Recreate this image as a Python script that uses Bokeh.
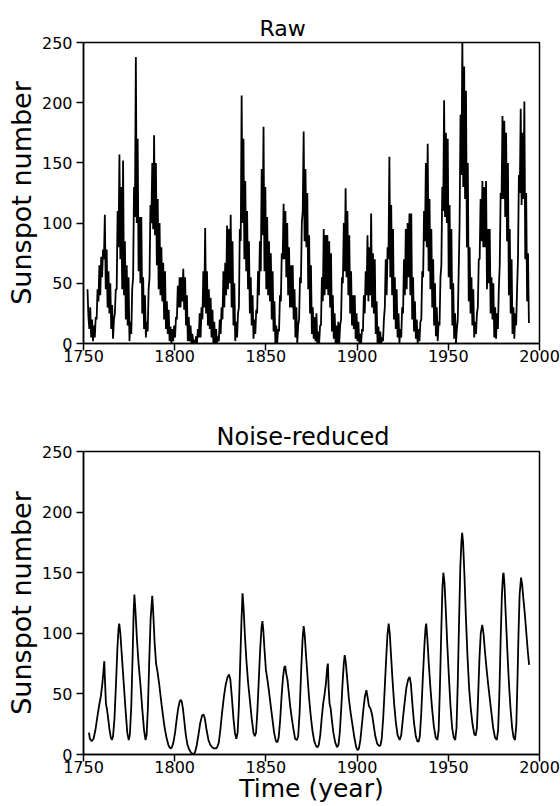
from bokeh.plotting import figure
from bokeh.layouts import column
from bokeh.models import FixedTicker, Range1d
from bokeh.embed import file_html
from bokeh.resources import INLINE

# ---------------- data ----------------
x_ticks = [1750, 1800, 1850, 1900, 1950, 2000]
y_ticks = [0, 50, 100, 150, 200, 250]

raw_start_year = 1752.2
raw_step = 0.5
# raw monthly sunspot numbers, read as two values (low, high) per year, 1752..1993
raw_pairs = [
    (45, 22), (12, 30), (5, 20), (2, 15), (5, 22), (20, 45), (35, 65), (40, 72),
    (55, 78), (70, 107), (45, 78), (30, 60), (25, 50), (12, 32), (4, 20), (25, 45),
    (45, 110), (80, 157), (70, 130), (45, 152), (40, 85), (20, 65), (15, 55), (2, 18),
    (8, 45), (55, 130), (105, 238), (100, 170), (60, 105), (50, 105), (25, 55), (12, 40),
    (5, 18), (10, 45), (55, 115), (100, 150), (95, 173), (90, 150), (65, 120), (45, 100),
    (40, 80), (35, 67), (20, 60), (12, 35), (8, 28), (2, 14), (0, 12), (2, 15),
    (5, 22), (20, 48), (30, 55), (30, 55), (35, 62), (28, 55), (15, 40), (2, 22),
    (2, 15), (0, 8), (0, 3), (0, 6), (0, 12), (5, 25), (5, 30), (20, 60),
    (30, 96), (25, 60), (15, 45), (12, 38), (5, 28), (0, 18), (0, 12), (0, 6),
    (2, 20), (8, 30), (20, 60), (30, 67), (40, 98), (45, 95), (50, 107), (30, 85),
    (15, 50), (2, 18), (5, 25), (30, 95), (85, 206), (100, 170), (70, 135), (60, 110),
    (45, 85), (25, 55), (15, 40), (4, 20), (8, 28), (25, 60), (40, 85), (60, 145),
    (90, 180), (60, 130), (45, 105), (40, 85), (35, 75), (20, 60), (10, 35), (0, 15),
    (0, 12), (10, 40), (35, 75), (70, 116), (70, 110), (55, 100), (40, 80), (30, 65),
    (30, 65), (20, 45), (5, 30), (0, 15), (20, 55), (50, 100), (110, 176), (85, 145),
    (80, 125), (45, 90), (25, 65), (8, 30), (4, 22), (2, 25), (0, 10), (0, 15),
    (15, 55), (35, 95), (40, 90), (45, 90), (40, 85), (30, 75), (10, 40), (4, 25),
    (0, 15), (0, 18), (0, 15), (20, 55), (50, 100), (60, 129), (55, 110), (40, 90),
    (25, 60), (15, 40), (12, 40), (4, 25), (2, 18), (0, 8), (0, 12), (10, 40),
    (25, 60), (40, 90), (35, 80), (40, 108), (30, 75), (25, 70), (8, 35), (0, 14),
    (0, 10), (0, 5), (2, 20), (30, 70), (40, 80), (70, 155), (55, 115), (40, 95),
    (20, 55), (12, 45), (5, 25), (0, 12), (5, 30), (25, 70), (40, 95), (45, 100),
    (55, 108), (40, 108), (20, 55), (10, 35), (4, 20), (0, 12), (2, 18), (20, 60),
    (55, 110), (85, 150), (80, 166), (60, 120), (45, 95), (30, 70), (15, 50), (6, 30),
    (2, 18), (15, 55), (65, 130), (110, 202), (105, 175), (100, 170), (55, 115), (45, 95),
    (15, 50), (4, 25), (0, 12), (20, 60), (100, 190), (140, 254), (130, 230), (120, 210),
    (80, 150), (35, 80), (25, 55), (15, 45), (5, 18), (8, 25), (30, 70), (70, 120),
    (85, 135), (80, 130), (80, 135), (45, 95), (50, 95), (25, 55), (20, 50), (5, 30),
    (4, 25), (12, 45), (65, 125), (120, 189), (120, 185), (105, 175), (85, 150), (40, 95),
    (25, 70), (8, 30), (4, 25), (15, 45), (70, 140), (125, 195), (115, 175), (120, 201),
    (70, 125), (35, 75),
]
raw_last = [17]

smooth_years = [
    1753.0, 1753.5, 1754.5, 1755.5, 1756.5, 1757.5, 1758.5, 1759.5, 1760.3, 1760.9,
    1761.4, 1761.8, 1762.3, 1762.9, 1763.5, 1764.3, 1765.0, 1765.6, 1766.2, 1767.0,
    1767.8, 1768.6, 1769.2, 1769.6, 1770.2, 1771.0, 1772.0, 1773.0, 1774.0, 1774.8,
    1775.4, 1776.2, 1776.9, 1777.5, 1777.9, 1778.5, 1779.3, 1780.2, 1781.2, 1782.2,
    1783.2, 1784.0, 1784.6, 1785.3, 1786.0, 1786.8, 1787.7, 1788.3, 1789.0, 1789.8,
    1790.6, 1791.5, 1792.5, 1793.5, 1794.5, 1795.5, 1796.5, 1797.3, 1797.8, 1798.5,
    1799.3, 1800.2, 1801.0, 1801.8, 1802.6, 1803.2, 1803.8, 1804.5, 1805.3, 1806.1,
    1807.0, 1808.0, 1809.0, 1810.3, 1811.2, 1812.0, 1813.0, 1814.0, 1815.0, 1815.8,
    1816.5, 1817.5, 1818.5, 1819.5, 1820.5, 1821.5, 1822.5, 1823.3, 1824.2, 1825.0,
    1826.0, 1827.0, 1828.0, 1829.0, 1829.8, 1830.5, 1831.3, 1832.2, 1833.0, 1833.8,
    1834.5, 1835.2, 1835.9, 1836.6, 1837.2, 1837.8, 1838.5, 1839.3, 1840.2, 1841.2,
    1842.2, 1843.2, 1843.9, 1844.6, 1845.3, 1846.0, 1846.8, 1847.6, 1848.1, 1848.6,
    1849.3, 1850.0, 1850.8, 1851.7, 1852.5, 1853.5, 1854.5, 1855.5, 1856.3, 1857.0,
    1857.8, 1858.6, 1859.4, 1860.1, 1860.6, 1861.2, 1861.8, 1862.5, 1863.3, 1864.2,
    1865.0, 1866.0, 1867.0, 1867.7, 1868.5, 1869.3, 1870.1, 1870.7, 1871.3, 1872.0,
    1872.8, 1873.6, 1874.5, 1875.5, 1876.5, 1877.5, 1878.3, 1879.0, 1879.8, 1880.6,
    1881.4, 1882.2, 1883.0, 1883.6, 1884.0, 1884.4, 1884.9, 1885.5, 1886.2, 1887.0,
    1888.0, 1889.0, 1889.8, 1890.5, 1891.3, 1892.0, 1892.7, 1893.2, 1893.8, 1894.6,
    1895.5, 1896.5, 1897.5, 1898.5, 1899.5, 1900.3, 1901.0, 1901.8, 1902.6, 1903.5,
    1904.3, 1905.1, 1905.8, 1906.5, 1907.3, 1908.2, 1909.0, 1910.0, 1911.0, 1912.0,
    1912.8, 1913.5, 1914.3, 1915.0, 1915.8, 1916.6, 1917.3, 1917.9, 1918.6, 1919.4,
    1920.3, 1921.2, 1922.2, 1923.3, 1924.2, 1925.0, 1926.0, 1927.0, 1928.0, 1928.8,
    1929.5, 1930.3, 1931.2, 1932.2, 1933.0, 1933.7, 1934.4, 1935.2, 1936.0, 1936.9,
    1937.5, 1937.9, 1938.5, 1939.3, 1940.2, 1941.1, 1942.1, 1943.1, 1944.0, 1944.7,
    1945.4, 1946.2, 1946.8, 1947.3, 1947.9, 1948.6, 1949.4, 1950.3, 1951.2, 1952.1,
    1953.0, 1953.8, 1954.5, 1955.2, 1955.9, 1956.6, 1957.2, 1957.6, 1958.1, 1958.8,
    1959.6, 1960.5, 1961.4, 1962.3, 1963.2, 1964.2, 1965.0, 1965.7, 1966.4, 1967.1,
    1967.8, 1968.6, 1969.3, 1970.1, 1970.9, 1971.7, 1972.6, 1973.6, 1974.6, 1975.6,
    1976.6, 1977.3, 1978.0, 1978.7, 1979.4, 1980.0, 1980.3, 1980.8, 1981.5, 1982.3,
    1983.2, 1984.1, 1985.0, 1985.8, 1986.6, 1987.3, 1987.9, 1988.5, 1989.1, 1989.9,
    1990.5, 1991.2, 1992.0, 1992.8, 1993.6, 1994.3,
]
smooth_values = [
    18, 13, 11, 13, 20, 30, 40, 48, 58, 68,
    77, 60, 42, 37, 30, 20, 14, 12, 15, 30,
    58, 88, 104, 108, 100, 82, 60, 38, 18, 12,
    16, 40, 80, 118, 132, 118, 95, 75, 58, 38,
    20, 12, 16, 38, 75, 112, 131, 115, 92, 75,
    68, 58, 45, 33, 22, 14, 8, 5.5, 5, 6,
    10, 18, 28, 37, 43, 45, 44, 38, 27, 16,
    8, 4, 1.5, 0, 2, 7, 16, 26, 32, 33,
    30, 20, 12, 8, 6, 5, 5, 6, 10, 20,
    35, 48, 58, 64, 66, 62, 48, 30, 18, 13,
    18, 40, 75, 110, 133, 120, 98, 78, 60, 45,
    30, 18, 15, 18, 35, 58, 85, 105, 110, 102,
    85, 70, 62, 52, 42, 30, 18, 11, 10, 14,
    28, 48, 64, 72, 73, 66, 62, 52, 40, 30,
    22, 13, 12, 15, 35, 68, 95, 106, 98, 82,
    65, 48, 33, 20, 11, 7, 6, 8, 16, 30,
    42, 50, 60, 72, 75, 55, 42, 38, 28, 18,
    10, 6, 8, 18, 38, 58, 75, 82, 76, 62,
    46, 34, 24, 14, 6, 3.5, 5, 12, 24, 38,
    48, 53, 47, 40, 38, 33, 25, 15, 9, 7,
    7.5, 13, 30, 50, 75, 98, 108, 100, 82, 62,
    42, 27, 16, 12, 16, 28, 42, 55, 62, 64,
    58, 42, 26, 15, 11, 10.5, 15, 35, 62, 90,
    104, 108, 96, 75, 55, 38, 23, 14, 12, 20,
    55, 105, 138, 150, 142, 120, 92, 65, 40, 22,
    14, 12, 22, 60, 110, 155, 176, 183, 175, 150,
    115, 82, 55, 38, 26, 17, 15.5, 22, 50, 80,
    100, 107, 100, 85, 72, 60, 48, 35, 22, 14,
    12, 20, 50, 95, 132, 148, 150, 140, 115, 88,
    60, 38, 22, 14, 12, 25, 60, 100, 132, 146,
    140, 128, 115, 100, 85, 74,
]

raw_values = [v for pair in raw_pairs for v in pair] + raw_last
raw_years = [raw_start_year + raw_step * i for i in range(len(raw_values))]

FONT = "DejaVu Sans"


def make_fig(height, top, bottom, title_text, title_offset, title_size, title_standoff, xlabel):
    p = figure(width=560, height=height,
               x_range=Range1d(1750, 2000), y_range=Range1d(0, 250),
               output_backend="svg", toolbar_location=None,
               min_border_left=83, min_border_right=21,
               min_border_top=top, min_border_bottom=bottom,
               background_fill_color="white", border_fill_color="white")
    p.title.text = title_text
    p.title.align = "left"
    p.title.offset = title_offset
    p.title.text_font = FONT
    p.title.text_font_style = "normal"
    p.title.text_font_size = title_size
    p.title.text_color = "black"
    p.title.standoff = title_standoff
    p.grid.visible = False
    p.outline_line_color = "black"
    p.outline_line_width = 1.5
    p.outline_line_alpha = 1.0
    p.xaxis.ticker = FixedTicker(ticks=x_ticks)
    p.yaxis.ticker = FixedTicker(ticks=y_ticks)
    for ax in (p.xaxis[0], p.yaxis[0]):
        ax.minor_tick_line_color = None
        ax.major_tick_in = 0
        ax.major_tick_out = 7
        ax.major_tick_line_width = 1.5
        ax.major_tick_line_color = "black"
        ax.axis_line_width = 1.5
        ax.axis_line_color = "black"
        ax.major_label_text_font = FONT
        ax.major_label_text_font_size = "16px"
        ax.major_label_text_color = "black"
        ax.axis_label_text_font = FONT
        ax.axis_label_text_font_style = "normal"
        ax.axis_label_text_color = "black"
    p.yaxis.major_label_standoff = 4
    p.yaxis.axis_label = "Sunspot number"
    p.yaxis.axis_label_text_font_size = "27px"
    p.yaxis.axis_label_standoff = 2
    p.xaxis.major_label_standoff = -1
    if xlabel:
        p.xaxis.axis_label = xlabel
        p.xaxis.axis_label_text_font_size = "25px"
        p.xaxis.axis_label_standoff = -2
    return p


p1 = make_fig(378, 42, 35, "Raw", 176, "22px", 4, None)
p1.line(raw_years, raw_values, line_color="black", line_width=1.8)

p2 = make_fig(428, 73, 52, "Noise-reduced", 133, "24px", 2, "Time (year)")
p2.line(smooth_years, smooth_values, line_color="black", line_width=1.8)

layout = column(p1, p2, spacing=0)

with open("out.html", "w") as f:
    f.write(file_html(layout, INLINE))
